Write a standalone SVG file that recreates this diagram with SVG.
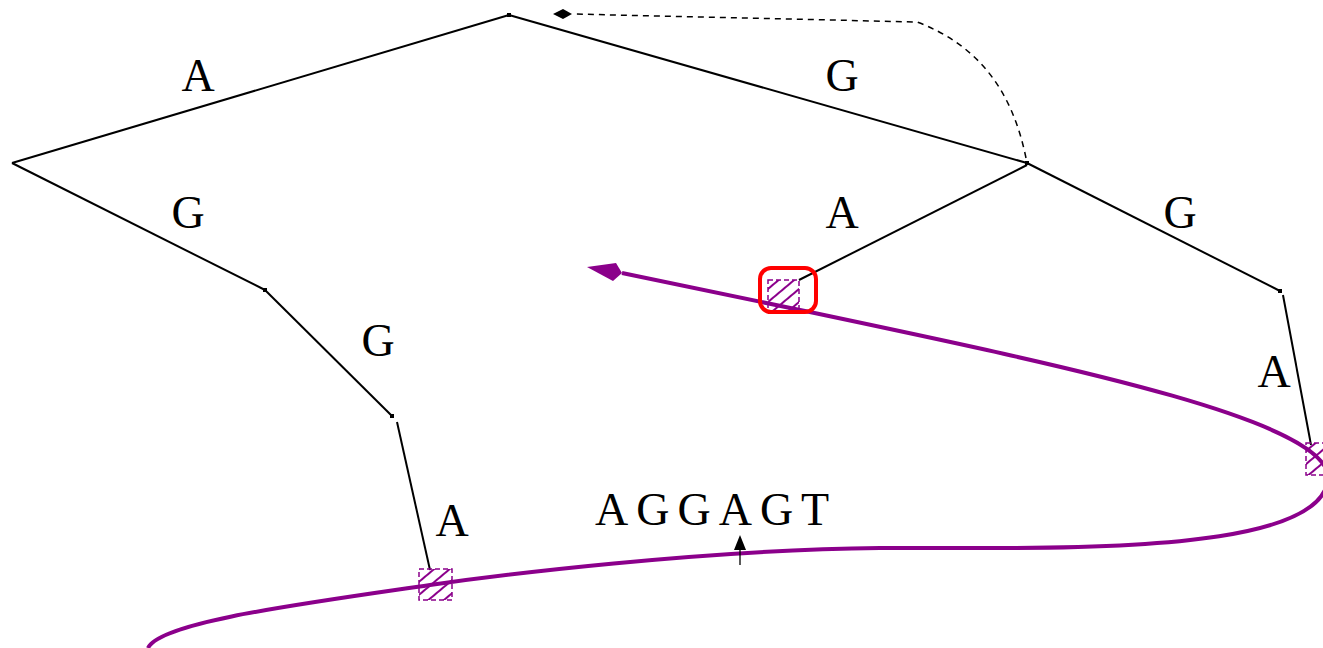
<svg xmlns="http://www.w3.org/2000/svg" width="1323" height="648" viewBox="0 0 1323 648">
<style>
.edge{stroke:#000;stroke-width:2;fill:none}
.lbl{font-family:"Liberation Serif","Times New Roman",serif;font-size:46px;fill:#000;text-anchor:middle}
.dot{fill:#000}
.hb{fill:url(#hatch);stroke:#8b008b;stroke-width:1.5;stroke-dasharray:5 3}
.path{stroke:#8b008b;stroke-width:4;fill:none}
</style>
<defs>
<pattern id="hatch" patternUnits="userSpaceOnUse" width="10" height="10" patternTransform="rotate(-40)">
<line x1="0" y1="5" x2="10" y2="5" stroke="#8b008b" stroke-width="2"/>
</pattern>
</defs>
<g id="connectors">
<line class="edge" x1="12" y1="163" x2="509" y2="15"/>
<line class="edge" x1="509" y1="15" x2="1027" y2="163"/>
<line class="edge" x1="12" y1="163" x2="265" y2="290"/>
<line class="edge" x1="265" y1="290" x2="392" y2="416"/>
<line class="edge" x1="397" y1="422" x2="430" y2="570"/>
<line class="edge" x1="1027" y1="165" x2="799" y2="280"/>
<line class="edge" x1="1027" y1="163" x2="1280" y2="291"/>
<line class="edge" x1="1283" y1="295" x2="1311" y2="445"/>
<path d="M1026,158 C1012,90 978,45 917,22 L572,14" stroke="#000" stroke-width="1.5" fill="none" stroke-dasharray="6 5"/>
<polygon points="553,14 563,9 572,14 563,19" fill="#000"/>
<path class="path" d="M622,273 L800,310 C1060,365 1330,420 1328,478 C1325,540 1150,548 1000,548 L880,548 C700,550 500,575 430,585 C300,604 160,622 148,648"/>
<polygon points="587,267 616,263 622,273 613,281" fill="#8b008b"/>
<line x1="740" y1="548" x2="740" y2="565" stroke="#000" stroke-width="1.3"/>
<polygon points="740,535 746,550 734,550" fill="#000"/>
</g>
<g id="n-root"><rect class="dot" x="507" y="13" width="4" height="4"/></g>
<g id="n-left"><rect class="dot" x="263" y="288" width="4" height="4"/></g>
<g id="n-left2"><rect class="dot" x="390" y="414" width="4" height="4"/></g>
<g id="n-right"><rect class="dot" x="1025" y="161" width="4" height="4"/></g>
<g id="n-right2"><rect class="dot" x="1278" y="289" width="4" height="4"/></g>
<g id="leaf-mid">
<rect class="hb" x="768" y="280" width="31" height="31"/>
<rect x="760" y="268" width="56" height="44" rx="11" fill="none" stroke="#f00" stroke-width="4"/>
</g>
<g id="leaf-left"><rect class="hb" x="419" y="569" width="33" height="31"/></g>
<g id="leaf-right"><rect class="hb" x="1306" y="443" width="33" height="32"/></g>
<g id="labels">
<text class="lbl" x="198" y="91">A</text>
<text class="lbl" x="842" y="91">G</text>
<text class="lbl" x="188" y="228">G</text>
<text class="lbl" x="842" y="228">A</text>
<text class="lbl" x="1180" y="228">G</text>
<text class="lbl" x="378" y="356">G</text>
<text class="lbl" x="1274" y="387">A</text>
<text class="lbl" x="452" y="536">A</text>
<text x="595" y="525" font-family="Liberation Serif, Times New Roman, serif" font-size="46" letter-spacing="8">AGGAGT</text>
</g>
</svg>
